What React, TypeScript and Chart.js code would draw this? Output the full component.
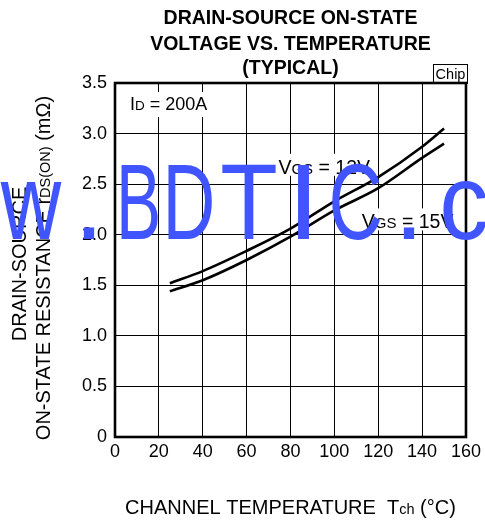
import React, { useEffect, useRef } from 'react';
import { Chart, registerables } from 'chart.js';

Chart.register(...registerables);

// ---- data ----
const temperatures = [25, 40, 60, 80, 100, 120, 140, 150];
const rdsVgs12 = [1.52, 1.64, 1.84, 2.06, 2.33, 2.57, 2.87, 3.05];
const rdsVgs15 = [1.44, 1.55, 1.75, 1.98, 2.24, 2.46, 2.76, 2.9];
const xTickLabels = ['0', '20', '40', '60', '80', '100', '120', '140', '160'];
const yTickLabels = ['0', '0.5', '1.0', '1.5', '2.0', '2.5', '3.0', '3.5'];
const titleLines = ['DRAIN-SOURCE ON-STATE', 'VOLTAGE VS. TEMPERATURE', '(TYPICAL)'];

const FONT = '"Liberation Sans", Arial, Helvetica, sans-serif';

type Run = [string, number];

function drawRuns(
  ctx: CanvasRenderingContext2D,
  runs: Run[],
  x: number,
  y: number,
  align: 'left' | 'center',
  weight = 'normal'
) {
  const widths = runs.map(([t, s]) => {
    ctx.font = `${weight} ${s}px ${FONT}`;
    return ctx.measureText(t).width;
  });
  const total = widths.reduce((a, b) => a + b, 0);
  let cx = align === 'center' ? x - total / 2 : x;
  ctx.textAlign = 'left';
  ctx.textBaseline = 'alphabetic';
  runs.forEach(([t, s], i) => {
    ctx.font = `${weight} ${s}px ${FONT}`;
    ctx.fillText(t, cx, y);
    cx += widths[i];
  });
  return total;
}

const watermark: { ch: string; left: number; width: number }[] = [
  { ch: 'w', left: 0, width: 62 },
  { ch: '.', left: 83, width: 12 },
  { ch: 'B', left: 121, width: 37 },
  { ch: 'D', left: 168, width: 44 },
  { ch: 'T', left: 222, width: 54 },
  { ch: 'I', left: 297, width: 13 },
  { ch: 'C', left: 332, width: 48 },
  { ch: '.', left: 403, width: 12 },
  { ch: 'c', left: 443, width: 44 },
];

const decorPlugin = {
  id: 'decor',
  beforeDatasetsDraw(chart: any) {
    const ctx: CanvasRenderingContext2D = chart.ctx;
    const { left, top, right, bottom } = chart.chartArea;
    const xs = chart.scales.x;
    const ys = chart.scales.y;
    ctx.save();
    // label backgrounds
    ctx.fillStyle = '#fff';
    ctx.fillRect(left + 10, top + 9, 92, 25);
    ctx.fillRect(xs.getPixelForValue(74), ys.getPixelForValue(2.8), 100, 22);
    ctx.fillRect(xs.getPixelForValue(111.5), ys.getPixelForValue(2.26), 104, 22);
    ctx.fillStyle = '#000';
    drawRuns(ctx, [['I', 18], ['D', 13.5], [' = 200A', 18]], left + 15, top + 27, 'left');
    drawRuns(ctx, [['V', 19.5], ['GS', 15], [' = 12V', 19.5]], xs.getPixelForValue(74.5), ys.getPixelForValue(2.6), 'left');
    drawRuns(ctx, [['V', 19.5], ['GS', 15], [' = 15V', 19.5]], xs.getPixelForValue(112.5), ys.getPixelForValue(2.07), 'left');
    // frame
    ctx.strokeStyle = '#000';
    ctx.lineWidth = 2.6;
    ctx.strokeRect(left, top, right - left, bottom - top);
    ctx.restore();
  },
  afterDraw(chart: any) {
    const ctx: CanvasRenderingContext2D = chart.ctx;
    const { left, top, right, bottom } = chart.chartArea;
    const cx = (left + right) / 2;
    ctx.save();
    ctx.fillStyle = '#000';
    // title
    const baselines = [23.5, 49.5, 74];
    titleLines.forEach((t, i) => drawRuns(ctx, [[t, 19.5]], cx, baselines[i], 'center', 'bold'));
    // Chip box
    ctx.strokeStyle = '#000';
    ctx.lineWidth = 1;
    ctx.strokeRect(433.5, 64.5, 34, 19);
    drawRuns(ctx, [['Chip', 14.5]], 450.5, 79, 'center');
    // x axis title
    drawRuns(ctx, [['CHANNEL TEMPERATURE  T', 20], ['ch', 14.5], [' (°C)', 20]], cx, 514, 'center');
    // y axis title
    const cy = (top + bottom) / 2 + 8;
    ctx.save();
    ctx.translate(26, cy - 4);
    ctx.rotate(-Math.PI / 2);
    drawRuns(ctx, [['DRAIN-SOURCE', 20]], 0, 0, 'center');
    ctx.restore();
    ctx.save();
    ctx.translate(50, cy);
    ctx.rotate(-Math.PI / 2);
    drawRuns(ctx, [['ON-STATE RESISTANCE r', 20], ['DS(ON)', 14.5], [' (mΩ)', 20]], 0, 0, 'center');
    ctx.restore();
    // watermark
    ctx.fillStyle = 'rgb(64, 84, 255)';
    ctx.font = `normal 108px ${FONT}`;
    ctx.textAlign = 'left';
    ctx.textBaseline = 'alphabetic';
    watermark.forEach(({ ch, left: l, width: w }) => {
      const m = ctx.measureText(ch);
      const bl = m.actualBoundingBoxLeft;
      const iw = m.actualBoundingBoxLeft + m.actualBoundingBoxRight;
      const sx = w / iw;
      ctx.save();
      ctx.translate(l, 239);
      ctx.scale(sx, 1);
      ctx.fillText(ch, bl, 0);
      ctx.restore();
    });
    ctx.restore();
  },
};

export default function App() {
  const ref = useRef<HTMLCanvasElement | null>(null);
  useEffect(() => {
    if (!ref.current) return;
    const chart = new Chart(ref.current, {
      type: 'scatter',
      data: {
        datasets: [
          {
            label: 'VGS = 12V',
            data: temperatures.map((t, i) => ({ x: t, y: rdsVgs12[i] })),
            showLine: true,
            borderColor: '#000',
            borderWidth: 2.6,
            pointRadius: 0,
            cubicInterpolationMode: 'monotone',
          },
          {
            label: 'VGS = 15V',
            data: temperatures.map((t, i) => ({ x: t, y: rdsVgs15[i] })),
            showLine: true,
            borderColor: '#000',
            borderWidth: 2.6,
            pointRadius: 0,
            cubicInterpolationMode: 'monotone',
          },
        ],
      },
      options: {
        animation: false,
        responsive: true,
        maintainAspectRatio: false,
        layout: { padding: { left: 0, top: 83, right: 14, bottom: 0 } },
        plugins: { legend: { display: false }, tooltip: { enabled: false }, title: { display: false } },
        scales: {
          x: {
            type: 'linear',
            min: 0,
            max: 160,
            afterFit: (s: any) => { s.height = 83; },
            ticks: {
              stepSize: 20,
              color: '#000',
              font: { family: FONT, size: 18 },
              padding: 4,
              maxRotation: 0,
              autoSkip: false,
              callback: (v: any) => xTickLabels[Math.round(Number(v) / 20)] ?? '',
            },
            grid: { color: '#000', lineWidth: 1, drawTicks: false },
            border: { display: false },
          },
          y: {
            type: 'linear',
            min: 0,
            max: 3.5,
            afterFit: (s: any) => { s.width = 115; },
            ticks: {
              stepSize: 0.5,
              color: '#000',
              font: { family: FONT, size: 18 },
              padding: 8,
              autoSkip: false,
              callback: (v: any) => yTickLabels[Math.round(Number(v) / 0.5)] ?? '',
            },
            grid: { color: '#000', lineWidth: 1, drawTicks: false },
            border: { display: false },
          },
        },
      },
      plugins: [decorPlugin],
    } as any);
    return () => chart.destroy();
  }, []);
  return (
    <div style={{ position: 'fixed', left: 0, top: 0, width: 485, height: 520, background: '#fff' }}>
      <canvas ref={ref} />
    </div>
  );
}
